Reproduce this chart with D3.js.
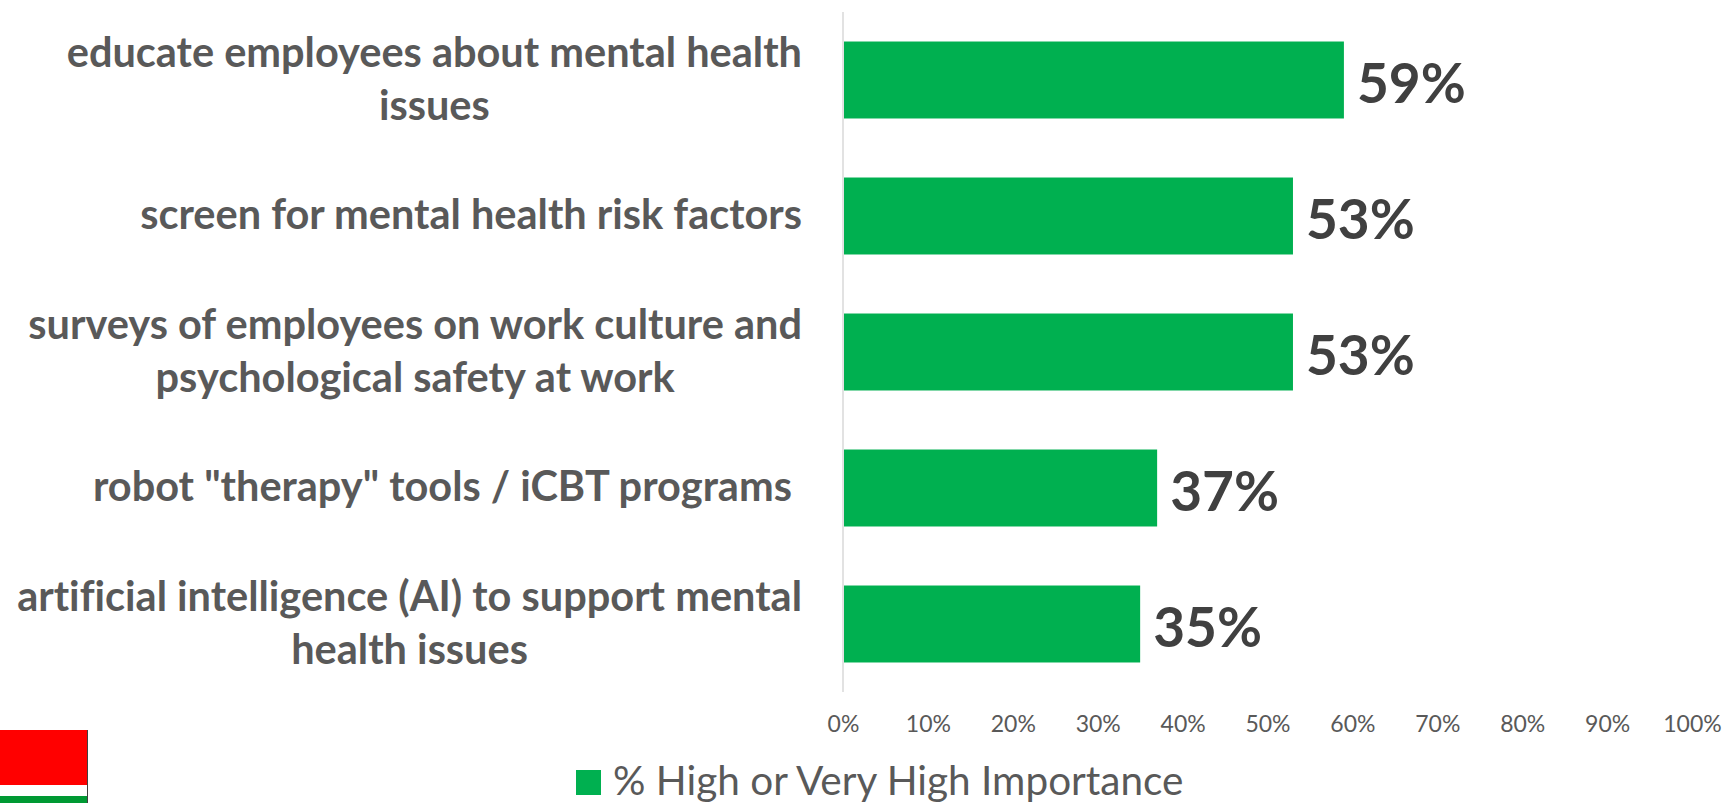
<!DOCTYPE html>
<html>
<head>
<meta charset="utf-8">
<script src="https://cdn.jsdelivr.net/npm/d3@7"></script>
<style>
  html, body { margin: 0; padding: 0; background: #fff; }
  svg { display: block; font-family: Lato, sans-serif; font-variant-ligatures: none; }
  .label { white-space: pre; }
</style>
</head>
<body>
<svg width="1733" height="803"></svg>
<script>
// 値は画像から読み取り
const labelLines = [
  ['educate employees about mental health', 'issues'],
  ['screen for mental health risk factors'],
  ['surveys of employees on work culture and', 'psychological safety at work'],
  ['robot "therapy" tools / iCBT programs '],
  ['artificial intelligence (AI) to support mental', 'health issues']
]
const categories = labelLines.map((d) => d.join(' '))
const values = [59, 53, 53, 37, 35]
const xTicks = [0, 10, 20, 30, 40, 50, 60, 70, 80, 90, 100]
const seriesName = '% High or Very High Importance'

const svg = d3.select('svg')

const xScale = d3.scaleLinear().domain([0, 100]).range([843, 1692])
const yScale = d3.scaleBand().domain(categories).range([12, 692]).paddingInner(0.434).paddingOuter(0.217)

// x軸（線なし、ラベルのみ）
const xAxis = d3.axisBottom(xScale)
  .tickValues(xTicks)
  .tickSize(0)
  .tickPadding(0)
  .tickFormat((d) => d + '%')

const xG = svg.append('g')
  .attr('transform', 'translate(0, 716)')
  .call(xAxis)
xG.select('.domain').remove()
xG.selectAll('text')
  .attr('font-family', 'Lato, sans-serif')
  .attr('font-size', 23)
  .attr('fill', '#595959')

// y軸の縦線
svg.append('line')
  .attr('x1', xScale(0)).attr('x2', xScale(0))
  .attr('y1', 12).attr('y2', 692)
  .attr('stroke', '#d9d9d9')
  .attr('stroke-width', 1.5)

// 棒
svg.selectAll('.bar')
  .data(categories)
  .enter()
  .append('rect')
  .attr('class', 'bar')
  .attr('x', xScale(0) + 1)
  .attr('y', (d) => yScale(d))
  .attr('width', (d, i) => xScale(values[i]) - xScale(0) - 1)
  .attr('height', yScale.bandwidth())
  .attr('fill', '#00b050')

// 数値ラベル
svg.selectAll('.value')
  .data(categories)
  .enter()
  .append('text')
  .attr('class', 'value')
  .attr('x', (d, i) => xScale(values[i]) + 13)
  .attr('y', (d) => yScale(d) + yScale.bandwidth() / 2 + 23)
  .attr('font-size', 55)
  .attr('font-weight', 700)
  .attr('fill', '#404040')
  .text((d, i) => values[i] + '%')

// カテゴリラベル（行ごとに中央揃え）
const rightEdge = 802
const lineHeight = 53
const labelG = svg.selectAll('.label')
  .data(categories)
  .enter()
  .append('text')
  .attr('class', 'label')
  .attr('font-size', 41.5)
  .attr('font-weight', 700)
  .attr('fill', '#595959')
  .attr('text-anchor', 'middle')

labelG.each(function (d, i) {
  const lines = labelLines[i]
  const el = d3.select(this)
  const cy = yScale(d) + yScale.bandwidth() / 2
  lines.forEach((line, j) => {
    el.append('tspan')
      .attr('y', cy + 13 + (j - (lines.length - 1) / 2) * lineHeight)
      .text(line)
  })
  // 一番長い行の右端を揃える
  const w = d3.max(Array.from(this.childNodes), (n) => n.getComputedTextLength())
  el.selectAll('tspan').attr('x', rightEdge - w / 2)
})

// 凡例
svg.append('rect')
  .attr('x', 576).attr('y', 770)
  .attr('width', 25).attr('height', 25)
  .attr('fill', '#00b050')
svg.append('text')
  .attr('x', 613).attr('y', 795)
  .attr('font-size', 40.5)
  .attr('fill', '#595959')
  .text(seriesName)

// 左下のロゴ片
svg.append('rect').attr('x', 0).attr('y', 730).attr('width', 87).attr('height', 55).attr('fill', '#ff0000')
svg.append('rect').attr('x', 0).attr('y', 796).attr('width', 87).attr('height', 7).attr('fill', '#009933')
svg.append('line').attr('x1', 87.5).attr('x2', 87.5).attr('y1', 730).attr('y2', 803).attr('stroke', '#404040').attr('stroke-width', 1)
</script>
</body>
</html>
